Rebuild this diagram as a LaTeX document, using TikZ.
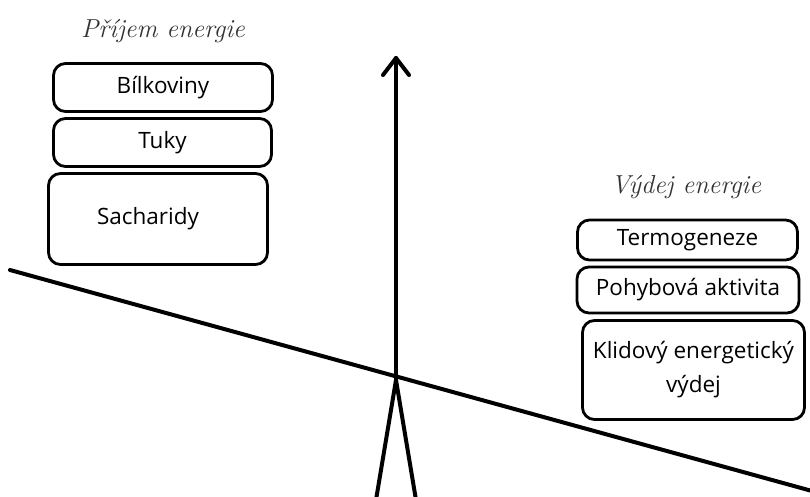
\documentclass[tikz,border=0pt]{standalone}
\usepackage{fontspec}
\newfontfamily\boxfont{Open Sans}
\usetikzlibrary{positioning}
\begin{document}
\begin{tikzpicture}[x=1pt,y=-1pt,
  thick line/.style={line width=4pt, line cap=round, line join=round},
  itembox/.style={draw, line width=2.8pt, rounded corners=12pt, font=\boxfont\fontsize{22.5}{34}\selectfont, align=center, inner sep=0pt},
  heading/.style={font=\itshape\fontsize{26}{30}\selectfont, text=black!80}]
\path[use as bounding box, fill=white] (0,0) rectangle (810,497);
% scale
\coordinate (bL) at (10,270);
\coordinate (bR) at (812,491);
\coordinate (pv) at (396,380);
\coordinate (top) at (396,58);
\coordinate (aL) at (383,75);
\coordinate (aR) at (409,75);
\coordinate (lL) at (376,500);
\coordinate (lR) at (416,500);
\draw[thick line] (bL) -- (bR);
\draw[thick line] (pv) -- (top);
\draw[thick line] (aL) -- (top) -- (aR);
\draw[line width=4pt] (lL) -- (pv) -- (lR);
% left side
\node[heading] (t1) at (163,31) {Příjem energie};
\node[itembox, minimum width=219pt, minimum height=48pt] (b1) at (163,87.5) {Bílkoviny};
\node[itembox, minimum width=218pt, minimum height=48pt] (b2) at (162.5,142.5) {Tuky};
\node[itembox, minimum width=219pt, minimum height=91pt] (b3) at (158,219) {\hspace*{-20pt}Sacharidy};
% right side
\node[heading] (t2) at (686,187) {Výdej energie};
\node[itembox, minimum width=220pt, minimum height=40pt] (r1) at (687.5,240) {Termogeneze};
\node[itembox, minimum width=222pt, minimum height=46pt] (r2) at (688,290) {Pohybová aktivita};
\node[itembox, minimum width=222pt, minimum height=99pt] (r3) at (693.5,370) {Klidový energetický\\výdej};
\end{tikzpicture}
\end{document}
